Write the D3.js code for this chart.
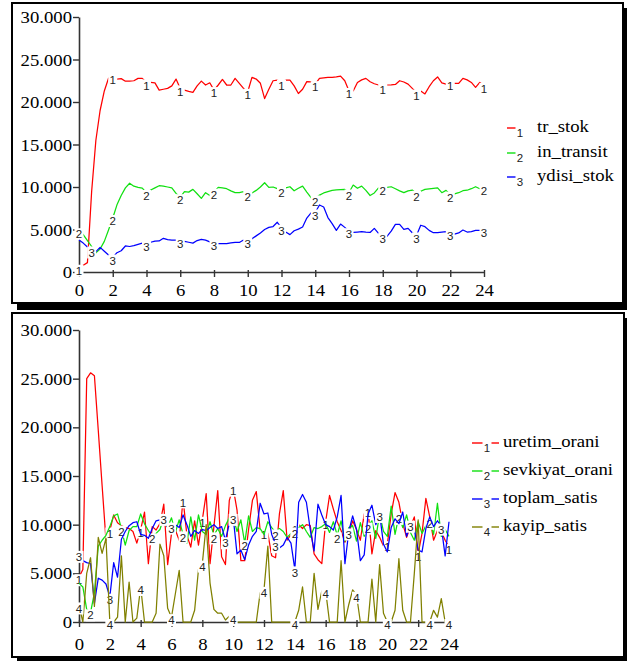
<!DOCTYPE html>
<html>
<head>
<meta charset="utf-8">
<script src="https://cdn.jsdelivr.net/npm/d3@7"></script>
</head>
<body style="margin:0">
<svg id="chart" width="627" height="661"></svg>
<script>
// time axis: 0..24 in steps of 0.25
const times = d3.range(97).map(i => i * 0.25);
const xTicks = d3.range(0, 25, 2);
const yTicks = [0, 5000, 10000, 15000, 20000, 25000, 30000];

// top chart
const trStok = [500, 800, 1100, 9500, 15500, 19000, 21300, 22800, 22900, 22700, 22750, 22450,
  22450, 22500, 22780, 22780, 22300, 22300, 22250, 21400, 21500, 21600, 21900, 22700,
  21600, 21400, 21250, 21130, 21900, 22460, 22000, 22260, 21400, 22000, 22660, 22000,
  22000, 22780, 22200, 21600, 21200, 22900, 22700, 22200, 20400, 21500, 22500, 22580,
  22300, 22580, 22580, 21900, 21000, 21500, 22400, 22380, 22100, 22780, 22850, 22900,
  22900, 22950, 23040, 22500, 21300, 21300, 22300, 22600, 22780, 22380, 22150, 22000,
  21800, 22000, 22020, 22070, 22500, 22350, 22100, 21600, 21100, 21300, 20950, 21800,
  22500, 22950, 22260, 22100, 22300, 22200, 22200, 22780, 22600, 22300, 21720, 22300, 21900];
const inTransit = [4800, 4400, 3700, 3000, 2250, 2700, 3600, 4940, 6350, 7900, 9000, 9900,
  10440, 10100, 9950, 9870, 9300, 9650, 9900, 10150, 10100, 10000, 9900, 9250,
  8800, 9450, 9400, 9720, 9200, 8660, 9330, 9000, 9450, 9960, 9900, 9800,
  9550, 9330, 9350, 9450, 9250, 9300, 9600, 10000, 10500, 9960, 10000, 9800,
  9700, 9900, 10030, 9560, 9850, 10100, 9400, 8740, 8660, 9050, 9300, 9450,
  9600, 9650, 9700, 9720, 9350, 10230, 9850, 10100, 9600, 9000, 9300, 9890,
  9890, 9950, 10030, 9800, 9550, 9330, 9550, 9640, 9200, 9500, 9720, 9780,
  9850, 9890, 9330, 9600, 9100, 9200, 9330, 9560, 9620, 9800, 10030, 9800, 9850];
const ydisiStok = [3760, 3400, 2950, 2650, 2390, 2900, 2450, 2000, 1700, 2270, 2500, 3060,
  3000, 3100, 3250, 3400, 3300, 3500, 3640, 3650, 3960, 3800, 3760, 3760,
  3650, 3600, 3500, 3400, 3700, 3840, 3750, 3550, 3400, 3330, 3330, 3330,
  3420, 3480, 3480, 3760, 3700, 3900, 4250, 4600, 5000, 5250, 5350, 5850,
  5200, 4700, 4400, 4850, 5050, 5300, 6350, 6950, 7000, 7880, 7650, 6400,
  5700, 4900, 5640, 5250, 4800, 4650, 4700, 4740, 4680, 4650, 5130, 4550,
  4300, 4200, 4800, 5610, 5610, 5020, 5130, 4620, 4300, 5500, 5330, 4900,
  4620, 4620, 4700, 4740, 4550, 4450, 4600, 4940, 4700, 4750, 4900, 4900, 5000];

// bottom chart
const uretimOrani = [4600, 5400, 25000, 25600, 25300, 19700, 14000, 8400, 9400, 11000, 10200, 9900,
  9700, 9600, 9300, 8100, 9500, 11300, 6000, 9800, 9450, 10100, 12100, 5900,
  9100, 9450, 8400, 12600, 8900, 7700, 10400, 7900, 10500, 13200, 6000, 9800,
  13500, 6700, 5900, 12500, 13800, 11500, 6300, 6300, 9500, 12500, 13400, 9450,
  9300, 9100, 6800, 6600, 11100, 13500, 8400, 9000, 9800, 10000, 9600, 10000,
  9900, 7000, 6400, 6000, 10300, 13000, 11600, 10300, 9400, 8200, 9000, 10400,
  9500, 8400, 11100, 11500, 7000, 9400, 8700, 7800, 8000, 11100, 13300, 12300,
  10100, 8700, 9800, 10800, 7000, 9100, 12700, 10800, 8400, 9400, 9300, 8400, 7700];
const sevkiyatOrani = [4000, 3600, 1300, 1000, 3000, 7800, 8400, 8900, 9800, 10900, 11100, 9600,
  7900, 9400, 9800, 9800, 11100, 10100, 9400, 8800, 9100, 9500, 10700, 9700,
  10700, 9200, 10500, 9000, 8100, 10800, 8400, 11000, 9300, 9000, 10300, 8900,
  9600, 8800, 9900, 10700, 10800, 9300, 10500, 8100, 10900, 9300, 9700, 9600,
  9000, 10300, 9700, 9200, 9600, 9300, 8700, 9100, 9400, 9700, 10000, 9300,
  8700, 9700, 9600, 9800, 10100, 9200, 10300, 8900, 10400, 8300, 9700, 9900,
  8300, 10200, 8800, 9900, 10400, 8600, 11100, 9300, 8800, 11900, 9000, 10900,
  9700, 11000, 9200, 8400, 10300, 9100, 9900, 10400, 9000, 12200, 8800, 9500, 8800];
const toplamSatis = [7000, 6300, 6100, 6000, 1900, 4500, 4300, 3900, 2600, 6100, 4600, 8500,
  9300, 9900, 10200, 10300, 9000, 8900, 8600, 9600, 10400, 10500, 10800, 9700,
  9900, 10000, 9700, 11000, 10000, 8800, 9400, 9100, 9500, 9400, 9700, 10000,
  9600, 9800, 8400, 10100, 10800, 7000, 7400, 6400, 7900, 8800, 9300, 12200,
  11100, 11200, 9000, 8000, 7600, 7900, 8700, 8100, 5400, 12300, 13100, 12300,
  9500, 7300, 12100, 11000, 10000, 9800, 9450, 10800, 13000, 6000, 9300, 10900,
  9500, 6300, 6900, 11100, 12000, 10000, 11100, 8000, 7200, 9700, 10600, 10100,
  11300, 8800, 10100, 9500, 7400, 7200, 9600, 10800, 9800, 10400, 9800, 6800, 10300];
const kayipSatis = [1700, 0, 5000, 6600, 1600, 8700, 7050, 8600, 0, 0, 500, 6800,
  0, 4100, 0, 400, 3600, 0, 0, 0, 900, 8000, 6800, 1400,
  500, 2900, 5300, 0, 0, 0, 1200, 5400, 6000, 10000, 4000, 1300,
  900, 900, 200, 600, 500, 0, 0, 0, 0, 0, 0, 3000,
  3300, 7800, 0, 0, 0, 0, 0, 0, 0, 1200, 3600, 0,
  0, 5000, 1300, 3200, 3200, 0, 0, 0, 6300, 0, 1800, 3300,
  2800, 0, 0, 0, 4400, 0, 5900, 900, 0, 0, 1200, 6500,
  1200, 0, 0, 5000, 10500, 0, 0, 0, 1200, 500, 2400, 0, 0];

// times where the series number is written on the line
const topTags = [d3.range(0, 25, 2), d3.range(0, 25, 2), [0.75].concat(d3.range(2, 25, 2))];
const bottomTags = [
  [0, 2, 4, 6.75, 8, 10, 12, 14, 16, 18.75, 20, 22, 24],
  [0.75, 2.75, 4.75, 6.75, 8.75, 10.75, 12.75, 14, 16.75, 18.75, 20.75, 22.75],
  [0, 2, 5.5, 6, 9.5, 10, 12.75, 14, 17.5, 19.5, 21.5, 23.5],
  [0, 2, 4, 6, 8, 10, 12, 14, 16, 18, 20, 22.75, 24]
];

const colors = ["#ff0000", "#10e010", "#0000ff", "#808000"];
const fmt = d3.formatLocale({ decimal: ",", thousands: ".", grouping: [3], currency: ["", ""] }).format(",");

const panels = [
  {
    frame: { x: 12, y: 3, w: 611, h: 300 },
    xRange: [79, 484], yRange: [272, 17], labelDy: 24,
    names: ["tr_stok", "in_transit", "ydisi_stok"],
    data: [trStok, inTransit, ydisiStok], tags: topTags,
    legend: { x1: 507, x2: 524, tagX: 520, textX: 537, rows: [128, 153, 177] }
  },
  {
    frame: { x: 12, y: 313, w: 612, h: 344 },
    xRange: [79, 449], yRange: [622, 330], labelDy: 28,
    names: ["uretim_orani", "sevkiyat_orani", "toplam_satis", "kayip_satis"],
    data: [uretimOrani, sevkiyatOrani, toplamSatis, kayipSatis], tags: bottomTags,
    legend: { x1: 472, x2: 499, tagX: 487, textX: 503, rows: [443, 471, 499, 527] }
  }
];

const svg = d3.select("#chart");

// wide Times-like lettering, as in the original export
function serifText(sel, x, y, anchor) {
  sel.attr("x", null).attr("y", null).attr("dy", null)
    .attr("text-anchor", anchor)
    .attr("transform", `translate(${x},${y}) scale(1.1,1)`)
    .style("font-family", "'Liberation Serif'")
    .style("font-size", "17px")
    .style("fill", "#000");
}

function addTag(sel, num) {
  sel.append("rect").attr("x", -4.5).attr("y", -6).attr("width", 9).attr("height", 12).attr("fill", "#fff");
  sel.append("text").style("font-family", "'Liberation Sans'").style("font-size", "11.5px").style("fill", "#222")
    .attr("text-anchor", "middle").attr("dy", "0.36em").text(num);
}

panels.forEach(p => {
  const f = p.frame;
  // drop shadow + frame
  svg.append("rect").attr("x", f.x + 5).attr("y", f.y + 5).attr("width", f.w - 1).attr("height", f.h + 2).attr("fill", "#000");
  svg.append("rect").attr("x", f.x).attr("y", f.y).attr("width", f.w).attr("height", f.h)
    .attr("fill", "#fff").attr("stroke", "#000").attr("stroke-width", 2);

  const x = d3.scaleLinear().domain([0, 24]).range(p.xRange);
  const y = d3.scaleLinear().domain([0, 30000]).range(p.yRange);

  const yAxis = svg.append("g").attr("transform", `translate(${p.xRange[0]},0)`)
    .call(d3.axisLeft(y).tickValues(yTicks).tickFormat(fmt).tickSize(6).tickSizeOuter(0));
  const xAxis = svg.append("g").attr("transform", `translate(0,${p.yRange[0]})`)
    .call(d3.axisBottom(x).tickValues(xTicks).tickFormat(d3.format("d")).tickSize(5).tickSizeOuter(0));
  xAxis.selectAll(".tick line").attr("y1", -2).attr("y2", 5);

  [yAxis, xAxis].forEach(a => {
    a.attr("font-family", null).attr("font-size", null);
    a.select(".domain").attr("stroke", "#333").attr("stroke-width", 1.6);
    a.selectAll(".tick line").attr("stroke", "#333").attr("stroke-width", 1.4);
  });
  yAxis.selectAll("text").each(function () { serifText(d3.select(this), -7, 5.5, "end"); });
  xAxis.selectAll("text").each(function () { serifText(d3.select(this), 0, p.labelDy, "middle"); });

  const plot = svg.append("g");
  p.data.forEach((vals, si) => {
    const line = d3.line().x((d, i) => x(times[i])).y(d => y(d));
    plot.append("path").datum(vals).attr("d", line)
      .attr("fill", "none").attr("stroke", colors[si]).attr("stroke-width", 1.25).attr("stroke-linejoin", "round");
    const at = d3.scaleLinear().domain(times).range(vals);
    plot.selectAll(null).data(p.tags[si]).join("g")
      .attr("transform", t => `translate(${x(t)},${y(at(t)) + 3})`)
      .each(function () { addTag(d3.select(this), si + 1); });
  });

  // legend
  const lg = p.legend;
  p.names.forEach((name, si) => {
    const row = lg.rows[si];
    svg.append("line").attr("x1", lg.x1).attr("x2", lg.x2).attr("y1", row).attr("y2", row)
      .attr("stroke", colors[si]).attr("stroke-width", 1.4);
    addTag(svg.append("g").attr("transform", `translate(${lg.tagX},${row + 5})`), si + 1);
    svg.append("text").text(name).call(serifText, lg.textX, row + 4, "start");
  });
});
</script>
</body>
</html>
